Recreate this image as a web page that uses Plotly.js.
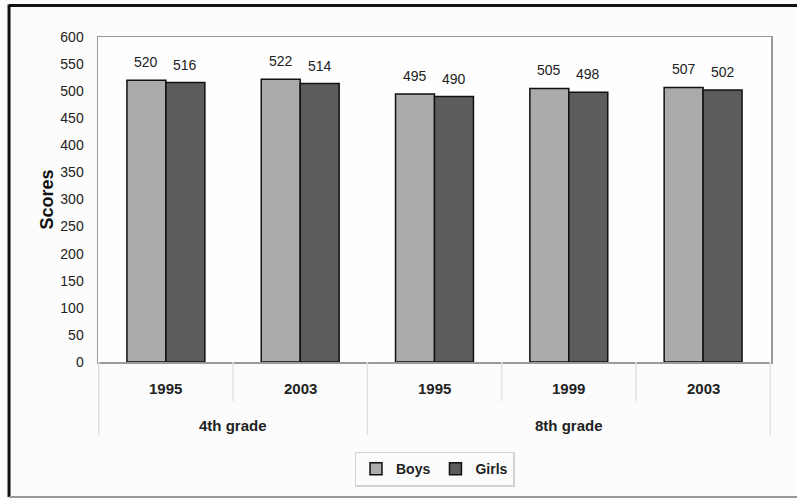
<!DOCTYPE html>
<html>
<head>
<meta charset="utf-8">
<script src="https://cdn.plot.ly/plotly-3.0.1.min.js"></script>
<style>
  html, body { margin: 0; padding: 0; background: #fcfcfc; }
  #chart { width: 797px; height: 498px; }
</style>
</head>
<body>
<div id="chart"></div>
<script>
// Mean scores by grade, survey year and gender
const grades = ['4th grade', '4th grade', '8th grade', '8th grade', '8th grade'];
const years = ['1995', '2003', '1995', '1999', '2003'];
const boys = [520, 522, 495, 505, 507];
const girls = [516, 514, 490, 498, 502];
const yTicks = [0, 50, 100, 150, 200, 250, 300, 350, 400, 450, 500, 550, 600];

const FONT = 'Liberation Sans, Arial, sans-serif';
const cats = grades.map((g, i) => g + ' ' + years[i]);

function series(name, values, color) {
  return {
    type: 'bar',
    name: name,
    x: cats,
    y: values,
    marker: { color: color, line: { color: '#111', width: 1.5 } },
    hoverinfo: 'skip'
  };
}

const data = [
  series('Boys', boys, '#ababab'),
  series('Girls', girls, '#5c5c5c')
];

// value labels above each bar
const annotations = [];
[[boys, -19.5], [girls, 19.5]].forEach(([vals, shift]) => {
  vals.forEach((v, i) => {
    annotations.push({
      x: cats[i], y: v, xref: 'x', yref: 'y',
      text: String(v), showarrow: false,
      xanchor: 'center', yanchor: 'bottom', xshift: shift, yshift: 8,
      font: { family: FONT, size: 14, color: '#222' }
    });
  });
});

// year labels under each category
years.forEach((yr, i) => {
  annotations.push({
    x: cats[i], y: -0.08, xref: 'x', yref: 'paper',
    text: yr, showarrow: false, xanchor: 'center', yanchor: 'middle',
    font: { family: FONT, size: 15, color: '#222', weight: 'bold' }
  });
});

// grade labels centred under their group, plus group dividers
const groupNames = [...new Set(grades)];
const shapes = [];
const dividerColor = '#e2e2e2';
groupNames.forEach(g => {
  const first = grades.indexOf(g);
  const last = grades.lastIndexOf(g);
  annotations.push({
    x: (first + last) / 2, y: -0.195, xref: 'x', yref: 'paper',
    text: g, showarrow: false, xanchor: 'center', yanchor: 'middle',
    font: { family: FONT, size: 15, color: '#222', weight: 'bold' }
  });
});
for (let i = 0; i <= cats.length; i++) {
  const isGroupEdge = i === 0 || i === cats.length || grades[i] !== grades[i - 1];
  shapes.push({
    type: 'line', xref: 'x', yref: 'paper',
    x0: i - 0.5, x1: i - 0.5, y0: 0, y1: isGroupEdge ? -0.225 : -0.12,
    line: { color: dividerColor, width: 1.5 }
  });
}

// outer frame
shapes.push(
  { type: 'line', xref: 'paper', yref: 'paper', x0: -0.1322, x1: 1.05, y0: 1.097, y1: 1.097,
    line: { color: '#111', width: 3 } },
  { type: 'line', xref: 'paper', yref: 'paper', x0: -0.1322, x1: -0.1322, y0: 1.1, y1: -0.4154,
    line: { color: '#111', width: 3 } },
  { type: 'line', xref: 'paper', yref: 'paper', x0: -0.1322, x1: 1.05, y0: -0.4154, y1: -0.4154,
    line: { color: '#999', width: 2 } }
);

const layout = {
  width: 797,
  height: 498,
  paper_bgcolor: '#fcfcfc',
  plot_bgcolor: '#fefefe',
  margin: { l: 98, r: 26, t: 37, b: 136, autoexpand: false },
  barmode: 'group',
  bargap: 0.42,
  bargroupgap: 0,
  showlegend: true,
  legend: {
    orientation: 'h',
    x: 0.5, xanchor: 'center',
    y: -0.276, yanchor: 'top',
    bordercolor: '#d2d2d2', borderwidth: 1.5,
    bgcolor: '#fcfcfc',
    itemwidth: 30,
    font: { family: FONT, size: 14, color: '#222', weight: 'bold' },
    traceorder: 'normal'
  },
  xaxis: {
    type: 'category',
    categoryorder: 'array',
    categoryarray: cats,
    showticklabels: false,
    ticks: '',
    showgrid: false,
    showline: true, linecolor: '#9a9a9a', linewidth: 1.5, mirror: true
  },
  yaxis: {
    range: [0, 600],
    tickvals: yTicks,
    ticktext: yTicks.map(String),
    showgrid: false, zeroline: false,
    showline: true, linecolor: '#9a9a9a', linewidth: 1.5, mirror: true,
    ticks: '',
    ticklabelstandoff: 10,
    tickfont: { family: FONT, size: 14, color: '#222' },
    title: {
      text: 'Scores',
      standoff: 2,
      font: { family: FONT, size: 18, color: '#111', weight: 'bold' }
    }
  },
  annotations: annotations,
  shapes: shapes
};

Plotly.newPlot('chart', data, layout, { displayModeBar: false, staticPlot: true });
</script>
</body>
</html>
